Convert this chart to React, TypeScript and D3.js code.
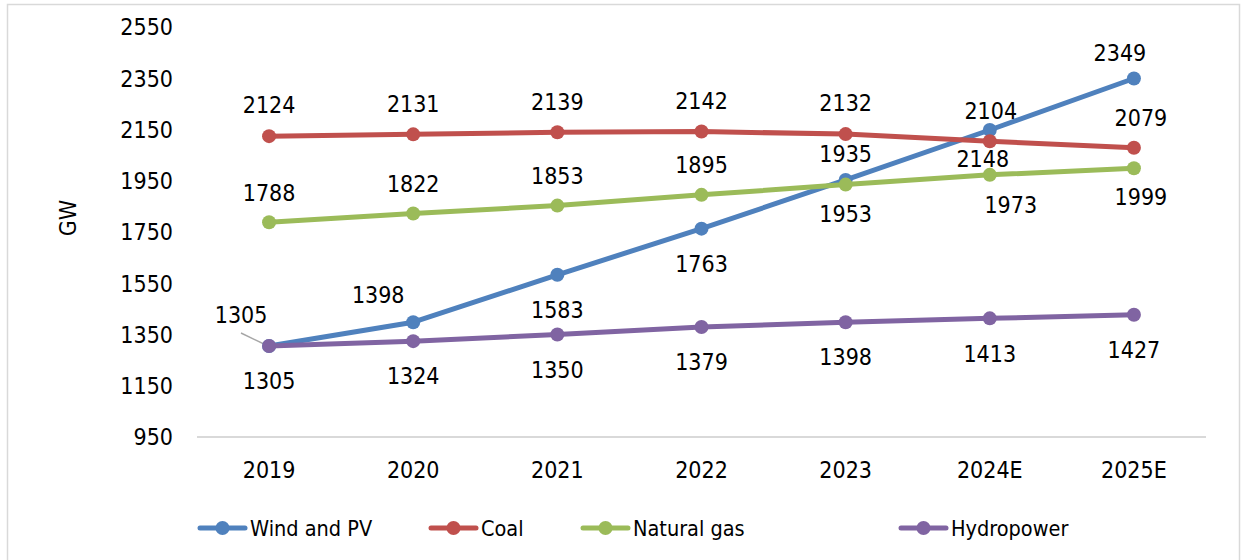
import React from "react";
import * as d3 from "d3";

const categories = ["2019", "2020", "2021", "2022", "2023", "2024E", "2025E"];
const windPV = [1305, 1398, 1583, 1763, 1953, 2148, 2349];
const coal = [2124, 2131, 2139, 2142, 2132, 2104, 2079];
const naturalGas = [1788, 1822, 1853, 1895, 1935, 1973, 1999];
const hydropower = [1305, 1324, 1350, 1379, 1398, 1413, 1427];
const yTicks = [950, 1150, 1350, 1550, 1750, 1950, 2150, 2350, 2550];

// label placement (style only): [dx, dy]
const windLabelOff: [number, number][] = [[-28, -31], [-35, -27], [0, 35], [0, 35], [0, 34], [-7, 29], [-14, -26]];
const coalLabelOff: [number, number][] = [[0, -31], [0, -31], [0, -31], [0, -31], [0, -31], [1, -31], [7, -30]];
const gasLabelOff: [number, number][] = [[0, -30], [0, -30], [0, -30], [0, -30], [0, -31], [21, 30], [7, 29]];
const hydroLabelOff: [number, number][] = [[0, 35], [0, 35], [0, 35], [0, 35], [0, 35], [0, 35], [0, 35]];

const series = [
  { name: "Wind and PV", values: windPV, color: "#4F81BD", off: windLabelOff },
  { name: "Coal", values: coal, color: "#C0504D", off: coalLabelOff },
  { name: "Natural gas", values: naturalGas, color: "#9BBB59", off: gasLabelOff },
  { name: "Hydropower", values: hydropower, color: "#8064A2", off: hydroLabelOff },
];

const legendX = [198, 429, 581, 899];

const FONT = "'DejaVu Sans Condensed', 'DejaVu Sans', sans-serif";

export default function App() {
  const W = 1245, H = 560;
  const x = d3.scaleBand<string>().domain(categories).range([197, 1206]);
  const y = d3.scaleLinear().domain([950, 2550]).range([437, 27]);
  const cx = (c: string) => (x(c) as number) + x.bandwidth() / 2;
  const line = d3
    .line<number>()
    .x((_, i) => cx(categories[i]))
    .y((v) => y(v));

  return (
    <svg width={W} height={H} style={{ position: "absolute", left: 0, top: 0, background: "#fff" }} fontFamily={FONT}>
      <rect x={7.5} y={4.5} width={1232} height={570} fill="#fff" stroke="#d9d9d9" strokeWidth={1.5} />
      {yTicks.map((t) => (
        <text key={t} x={173} y={y(t)} dy="0.36em" textAnchor="end" fontSize={23} fill="#000">
          {t}
        </text>
      ))}
      <line x1={197} x2={1206} y1={437} y2={437} stroke="#d9d9d9" strokeWidth={2} />
      {categories.map((c) => (
        <text key={c} x={cx(c)} y={470} dy="0.36em" textAnchor="middle" fontSize={23} fill="#000">
          {c}
        </text>
      ))}
      <text transform="translate(68,218) rotate(-90)" textAnchor="middle" dy="0.36em" fontSize={23} fill="#000">
        GW
      </text>
      <line x1={241} y1={333} x2={268} y2={346} stroke="#a6a6a6" strokeWidth={1.5} />
      {series.map((s) => (
        <g key={s.name}>
          <path d={line(s.values) || ""} fill="none" stroke={s.color} strokeWidth={5} strokeLinejoin="round" strokeLinecap="round" />
          {s.values.map((v, i) => (
            <circle key={i} cx={cx(categories[i])} cy={y(v)} r={7} fill={s.color} />
          ))}
        </g>
      ))}
      {series.map((s) => (
        <g key={s.name + "-labels"}>
          {s.values.map((v, i) => (
            <text
              key={i}
              x={cx(categories[i]) + s.off[i][0]}
              y={y(v) + s.off[i][1]}
              dy="0.36em"
              textAnchor="middle"
              fontSize={23}
              fill="#000"
            >
              {v}
            </text>
          ))}
        </g>
      ))}
      {series.map((s, i) => (
        <g key={s.name + "-legend"} transform={`translate(${legendX[i]},528)`}>
          <line x1={2} x2={47} y1={0} y2={0} stroke={s.color} strokeWidth={5} strokeLinecap="round" />
          <circle cx={24.5} cy={0} r={7} fill={s.color} />
          <text x={52} y={0} dy="0.36em" fontSize={21.5} fill="#000">
            {s.name}
          </text>
        </g>
      ))}
    </svg>
  );
}
